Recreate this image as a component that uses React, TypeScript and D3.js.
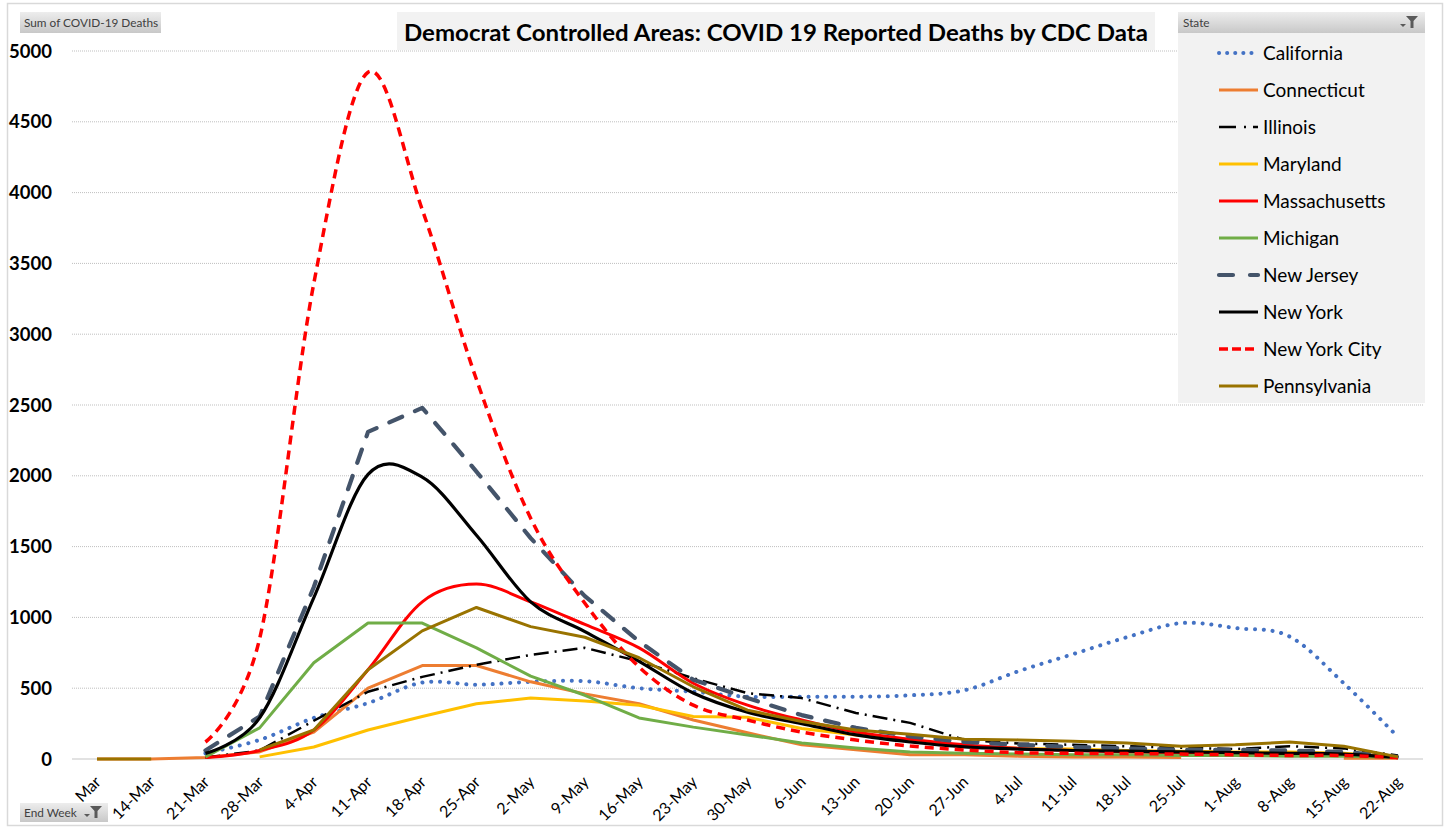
import React from "react";
import * as d3 from "d3";

const categories = ["7-Mar","14-Mar","21-Mar","28-Mar","4-Apr","11-Apr","18-Apr","25-Apr","2-May","9-May","16-May","23-May","30-May","6-Jun","13-Jun","20-Jun","27-Jun","4-Jul","11-Jul","18-Jul","25-Jul","1-Aug","8-Aug","15-Aug","22-Aug"];
const tickLabels = ["Mar","14-Mar","21-Mar","28-Mar","4-Apr","11-Apr","18-Apr","25-Apr","2-May","9-May","16-May","23-May","30-May","6-Jun","13-Jun","20-Jun","27-Jun","4-Jul","11-Jul","18-Jul","25-Jul","1-Aug","8-Aug","15-Aug","22-Aug"];
const yTicks = [0,500,1000,1500,2000,2500,3000,3500,4000,4500,5000];

const california = [null,null,40,135,290,395,540,525,545,550,500,475,440,440,440,450,485,620,740,860,960,925,865,535,155];
const connecticut = [0,0,10,50,190,500,660,660,545,460,390,275,185,100,65,30,30,20,15,15,10,null,null,5,5];
const illinois = [null,null,10,60,270,475,580,665,735,785,690,570,465,430,325,255,135,110,100,90,80,70,90,75,25];
const maryland = [null,null,null,15,85,205,300,390,430,410,380,300,295,215,170,130,90,75,70,60,55,50,50,40,15];
const massachusetts = [null,null,10,60,205,630,1110,1235,1110,950,785,535,380,275,190,140,100,75,60,50,45,40,35,30,10];
const michigan = [null,null,15,220,680,960,960,785,585,450,290,225,170,113,78,50,40,35,30,30,25,25,20,20,10];
const newJersey = [null,null,60,300,1215,2310,2480,2030,1560,1150,830,560,430,310,220,160,120,100,85,75,65,65,60,50,15];
const newYork = [null,null,40,290,1140,2010,1990,1580,1110,900,690,466,330,250,170,120,85,70,60,55,50,45,40,35,10];
const newYorkCity = [null,null,120,850,3360,4850,3880,2680,1700,1100,650,380,275,190,134,92,64,45,40,38,35,30,25,25,10];
const pennsylvania = [0,0,null,65,205,630,905,1070,935,860,715,510,345,265,205,175,140,135,125,113,90,100,120,90,15];

const seriesNames = ["California","Connecticut","Illinois","Maryland","Massachusetts","Michigan","New Jersey","New York","New York City","Pennsylvania"];
const seriesValues = [california,connecticut,illinois,maryland,massachusetts,michigan,newJersey,newYork,newYorkCity,pennsylvania];

const styles: Record<string, any> = {
  "California": { color: "#4472C4", width: 4, dash: "0.1 8.7", cap: "round", smooth: true, legendDash: "0.1 8" },
  "Connecticut": { color: "#ED7D31", width: 3, dash: null, cap: "butt", smooth: false },
  "Illinois": { color: "#000000", width: 2.5, dash: "15 6 2 6", cap: "butt", smooth: false, legendDash: "17 8 2 7" },
  "Maryland": { color: "#FFC000", width: 3, dash: null, cap: "butt", smooth: false },
  "Massachusetts": { color: "#FF0000", width: 3, dash: null, cap: "butt", smooth: true },
  "Michigan": { color: "#70AD47", width: 3, dash: null, cap: "butt", smooth: false },
  "New Jersey": { color: "#44546A", width: 4.2, dash: "14 14", cap: "round", smooth: false, legendDash: "14 17" },
  "New York": { color: "#000000", width: 3.2, dash: null, cap: "butt", smooth: true },
  "New York City": { color: "#FF0000", width: 3.5, dash: "9 6", cap: "butt", smooth: true, legendDash: "9 4" },
  "Pennsylvania": { color: "#997300", width: 3, dash: null, cap: "butt", smooth: false },
};

const FONT = "Lato, 'Open Sans', 'DejaVu Sans', sans-serif";

function FilterIcon({ x, y }: { x: number; y: number }) {
  return (
    <g fill="#5a5a5a">
      <path d={`M${x},${y + 7} L${x + 6},${y + 7} L${x + 3},${y + 10} Z`} />
      <path d={`M${x + 6},${y - 1} L${x + 18},${y - 1} L${x + 13.5},${y + 4} L${x + 13.5},${y + 11} L${x + 10.5},${y + 11} L${x + 10.5},${y + 4} Z`} />
    </g>
  );
}

export default function App() {
  const x = d3.scalePoint<string>().domain(categories).range([97, 1398]);
  const y = d3.scaleLinear().domain([0, 5000]).range([759, 51]);
  const plotLeft = 72;
  const plotRight = 1423;

  const makeLine = (smooth: boolean) =>
    d3
      .line<number | null>()
      .defined((d) => d != null)
      .x((_, i) => x(categories[i]) as number)
      .y((d) => y(d as number))
      .curve(smooth ? d3.curveCardinal.tension(0) : d3.curveLinear);

  return (
    <svg width={1448} height={828} style={{ position: "absolute", left: 0, top: 0, display: "block", background: "#fff" }} fontFamily={FONT}>
      <defs>
        <linearGradient id="btn" x1="0" y1="0" x2="0" y2="1">
          <stop offset="0" stopColor="#ededed" />
          <stop offset="1" stopColor="#c8c8c8" />
        </linearGradient>
      </defs>
      <rect x={7.5} y={3.5} width={1435} height={822} fill="#fff" stroke="#d9d9d9" strokeWidth={1.5} />

      {yTicks.map((t) =>
        t === 0 ? (
          <line key={t} x1={plotLeft} x2={plotRight} y1={y(t)} y2={y(t)} stroke="#d9d9d9" strokeWidth={1.5} />
        ) : (
          <line key={t} x1={plotLeft} x2={plotRight} y1={y(t)} y2={y(t)} stroke="#bfbfbf" strokeWidth={1} strokeDasharray="1 1" />
        )
      )}
      {yTicks.map((t) => (
        <text key={"l" + t} x={52} y={y(t) + 6.5} textAnchor="end" fontSize={18.5} fontWeight="bold" fill="#000">
          {t}
        </text>
      ))}

      {categories.map((c, i) => (
        <text
          key={c}
          transform={`translate(${(x(c) as number) + 5},${783}) rotate(-45)`}
          textAnchor="end"
          fontSize={16}
          fill="#000"
        >
          {tickLabels[i]}
        </text>
      ))}

      {seriesNames.map((name, k) => {
        const s = styles[name];
        return (
          <path
            key={name}
            d={makeLine(s.smooth)(seriesValues[k]) || ""}
            fill="none"
            stroke={s.color}
            strokeWidth={s.width}
            strokeDasharray={s.dash || undefined}
            strokeLinecap={s.cap}
            strokeLinejoin="round"
          />
        );
      })}

      <rect x={397} y={12} width={758} height={38} fill="#f2f2f2" />
      <text x={776} y={41} textAnchor="middle" fontSize={23.5} fontWeight="bold" fill="#000" textLength={744} lengthAdjust="spacingAndGlyphs">
        Democrat Controlled Areas: COVID 19 Reported Deaths by CDC Data
      </text>

      <rect x={20} y={12} width={141} height={21} fill="url(#btn)" />
      <text x={24} y={27} fontSize={11.8} fill="#404040">Sum of COVID-19 Deaths</text>

      <rect x={1178} y={12} width={247} height={391} fill="#f2f2f2" />
      <rect x={1178} y={12} width={247} height={21} fill="url(#btn)" />
      <text x={1183} y={27} fontSize={11.8} fill="#404040">State</text>
      <FilterIcon x={1400} y={17} />
      {seriesNames.map((name, k) => {
        const s = styles[name];
        const ly = 53 + 37 * k;
        return (
          <g key={"lg" + name}>
            <line
              x1={1219}
              x2={1258}
              y1={ly}
              y2={ly}
              stroke={s.color}
              strokeWidth={s.width}
              strokeDasharray={s.legendDash || s.dash || undefined}
              strokeLinecap={s.cap}
            />
            <text x={1263} y={ly + 6.5} fontSize={19} fill="#000">
              {name}
            </text>
          </g>
        );
      })}

      <rect x={20} y={803} width={88} height={19} fill="url(#btn)" />
      <text x={24} y={817} fontSize={11.8} fill="#404040">End Week</text>
      <FilterIcon x={84} y={807} />
    </svg>
  );
}
